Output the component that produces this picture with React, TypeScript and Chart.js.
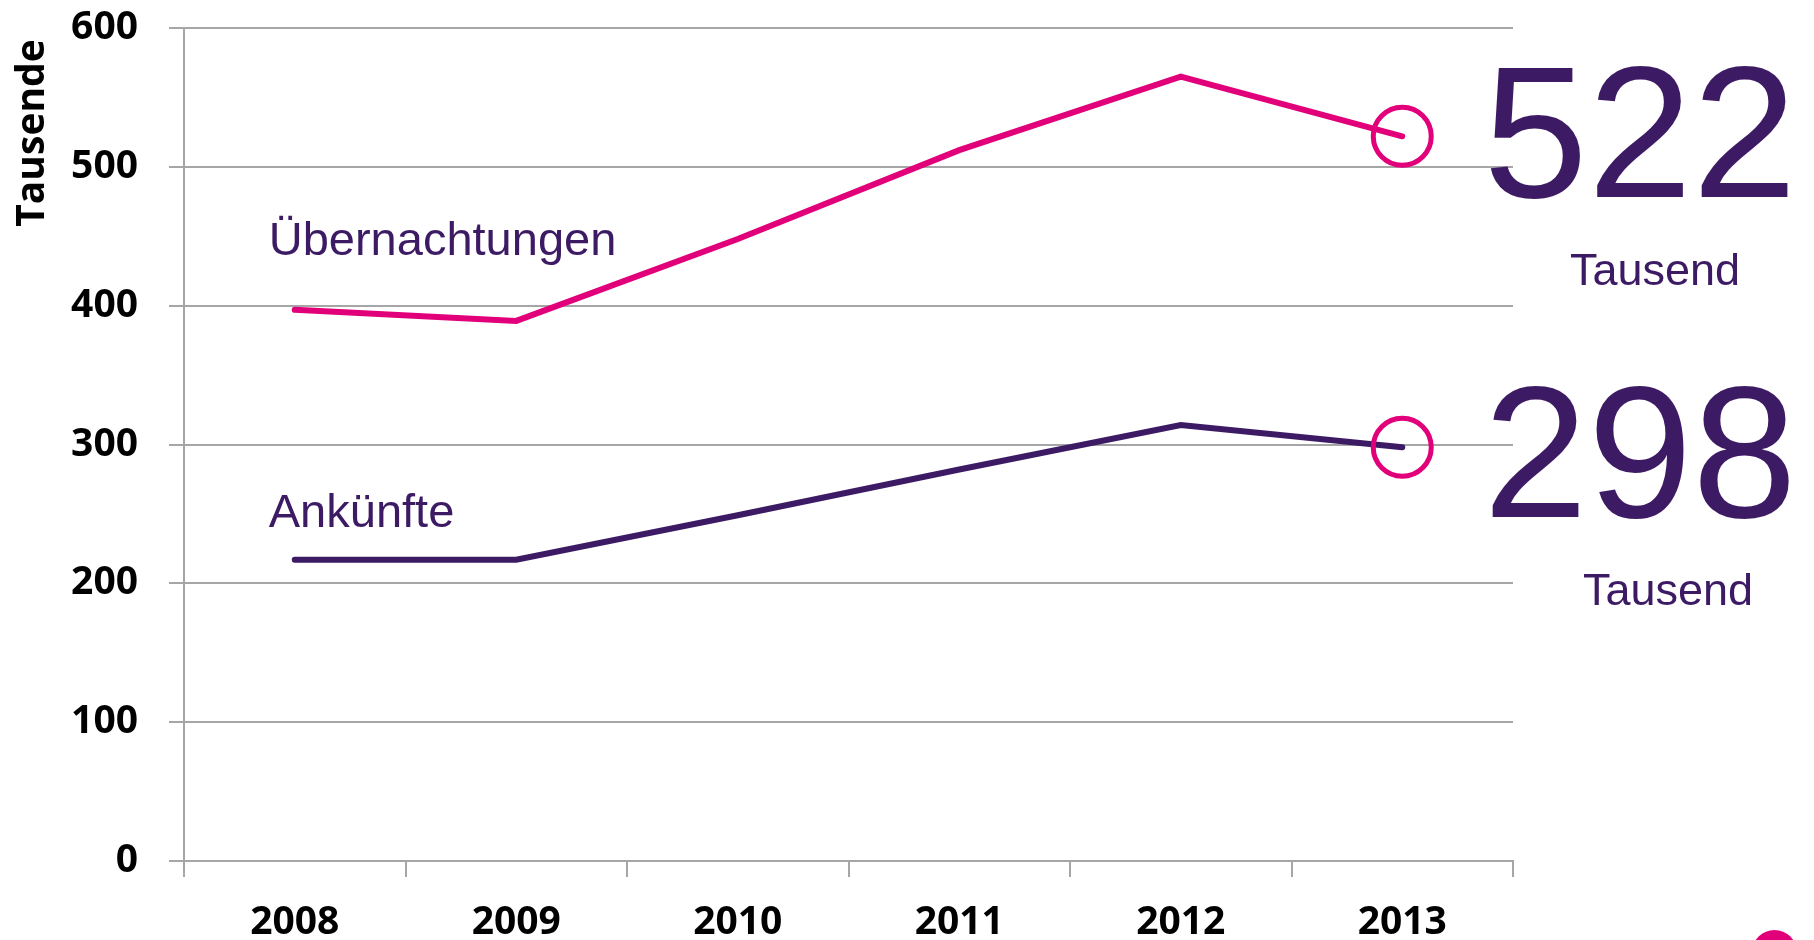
import React, { useEffect, useRef } from 'react';
import { Chart, registerables } from 'chart.js';

Chart.register(...registerables);

// ---- data ----
const years = ['2008', '2009', '2010', '2011', '2012', '2013'];
const uebernachtungen = [397, 389, 448, 512, 565, 522];
const ankuenfte = [217, 217, 249, 282, 314, 298];
const seriesNames = ['Übernachtungen', 'Ankünfte'];
const unitLabel = 'Tausend';
const axisTitle = 'Tausende';
const yMin = 0;
const yMax = 600;
const yStep = 100;

// ---- styles ----
const MAGENTA = '#E2007A';
const PURPLE = '#3D1A64';
const GRID = '#A6A6A6';
const AXIS_FONT = '"Open Sans", "DejaVu Sans", sans-serif';
const TEXT_FONT = '"Liberation Sans", Arial, sans-serif';
const CANVAS_SHIFT = 6; // canvas is lifted so the plot top sits at 28px

const annotationPlugin = {
  id: 'annotations',
  afterDraw(chart: any) {
    const ctx = chart.ctx as CanvasRenderingContext2D;
    const xs = chart.scales.x;
    const ys = chart.scales.y;
    const area = chart.chartArea;
    const last = years.length - 1;

    // rotated axis title
    ctx.save();
    ctx.fillStyle = '#000';
    ctx.font = `bold 39px ${AXIS_FONT}`;
    ctx.translate(44, 133 + CANVAS_SHIFT);
    ctx.rotate(-Math.PI / 2);
    ctx.textAlign = 'center';
    ctx.textBaseline = 'alphabetic';
    ctx.fillText(axisTitle, 0, 0);
    ctx.restore();

    ctx.save();
    ctx.fillStyle = PURPLE;
    ctx.textBaseline = 'alphabetic';

    // series labels near the first points
    ctx.font = `47px ${TEXT_FONT}`;
    ctx.textAlign = 'left';
    const x0 = xs.getPixelForValue(0);
    ctx.fillText(seriesNames[0], x0 - 26, ys.getPixelForValue(uebernachtungen[0]) - 55);
    ctx.fillText(seriesNames[1], x0 - 26, ys.getPixelForValue(ankuenfte[0]) - 33);

    // big last values
    const bigX = area.right + 127;
    ctx.textAlign = 'center';
    ctx.font = `188px ${TEXT_FONT}`;
    const yU = ys.getPixelForValue(uebernachtungen[last]);
    const yA = ys.getPixelForValue(ankuenfte[last]);
    ctx.fillText(String(uebernachtungen[last]), bigX, yU + 61);
    ctx.fillText(String(ankuenfte[last]), bigX, yA + 70);

    ctx.font = `45px ${TEXT_FONT}`;
    ctx.fillText(unitLabel, bigX + 15, yU + 149);
    ctx.fillText(unitLabel, bigX + 28, yA + 158);
    ctx.restore();
  },
};

const lastOnly = (r: number) => (c: any) => (c.dataIndex === years.length - 1 ? r : 0);

export default function App() {
  const canvasRef = useRef<HTMLCanvasElement | null>(null);

  useEffect(() => {
    if (!canvasRef.current) return;
    const chart = new Chart(canvasRef.current, {
      type: 'line',
      data: {
        labels: years,
        datasets: [
          {
            label: seriesNames[0],
            data: uebernachtungen,
            borderColor: MAGENTA,
            borderWidth: 6,
            borderCapStyle: 'round',
            tension: 0,
            pointRadius: lastOnly(29),
            pointBackgroundColor: 'rgba(0,0,0,0)',
            pointBorderColor: MAGENTA,
            pointBorderWidth: 5,
          },
          {
            label: seriesNames[1],
            data: ankuenfte,
            borderColor: PURPLE,
            borderWidth: 6,
            borderCapStyle: 'round',
            tension: 0,
            pointRadius: lastOnly(29),
            pointBackgroundColor: 'rgba(0,0,0,0)',
            pointBorderColor: MAGENTA,
            pointBorderWidth: 5,
          },
        ],
      },
      options: {
        responsive: false,
        animation: false,
        events: [],
        layout: { padding: { left: 0, right: 301, top: 20, bottom: 0 } },
        plugins: {
          legend: { display: false },
          tooltip: { enabled: false },
          title: { display: false },
        },
        scales: {
          x: {
            offset: true,
            afterFit: (s: any) => {
              s.height = 79;
            },
            grid: {
              display: true,
              offset: true,
              drawOnChartArea: false,
              drawTicks: true,
              tickLength: 16,
              color: GRID,
              lineWidth: 2,
            },
            border: { display: true, color: GRID, width: 2 },
            ticks: {
              color: '#000',
              font: { family: AXIS_FONT, size: 39, weight: 'bold' },
              padding: 22,
              maxRotation: 0,
            },
          },
          y: {
            min: yMin,
            max: yMax,
            afterFit: (s: any) => {
              s.width = 184;
              s.paddingTop = 0;
              s.paddingBottom = 0;
            },
            grid: {
              color: GRID,
              lineWidth: 2,
              drawTicks: true,
              tickLength: 15,
            },
            border: { display: true, color: GRID, width: 2 },
            ticks: {
              stepSize: yStep,
              color: '#000',
              font: { family: AXIS_FONT, size: 39, weight: 'bold' },
              padding: 31,
            },
          },
        },
      },
      plugins: [annotationPlugin],
    } as any);
    return () => chart.destroy();
  }, []);

  return (
    <div
      style={{
        position: 'absolute',
        left: 0,
        top: 0,
        width: 1814,
        height: 940,
        overflow: 'hidden',
        background: '#fff',
      }}
    >
      <canvas
        ref={canvasRef}
        width={1814}
        height={940 + CANVAS_SHIFT}
        style={{
          position: 'absolute',
          left: 0,
          top: -CANVAS_SHIFT,
          width: 1814,
          height: 940 + CANVAS_SHIFT,
          display: 'block',
        }}
      />
      <div
        style={{
          position: 'absolute',
          left: 1752,
          top: 930,
          width: 45,
          height: 45,
          borderRadius: '50%',
          background: MAGENTA,
        }}
      />
    </div>
  );
}
